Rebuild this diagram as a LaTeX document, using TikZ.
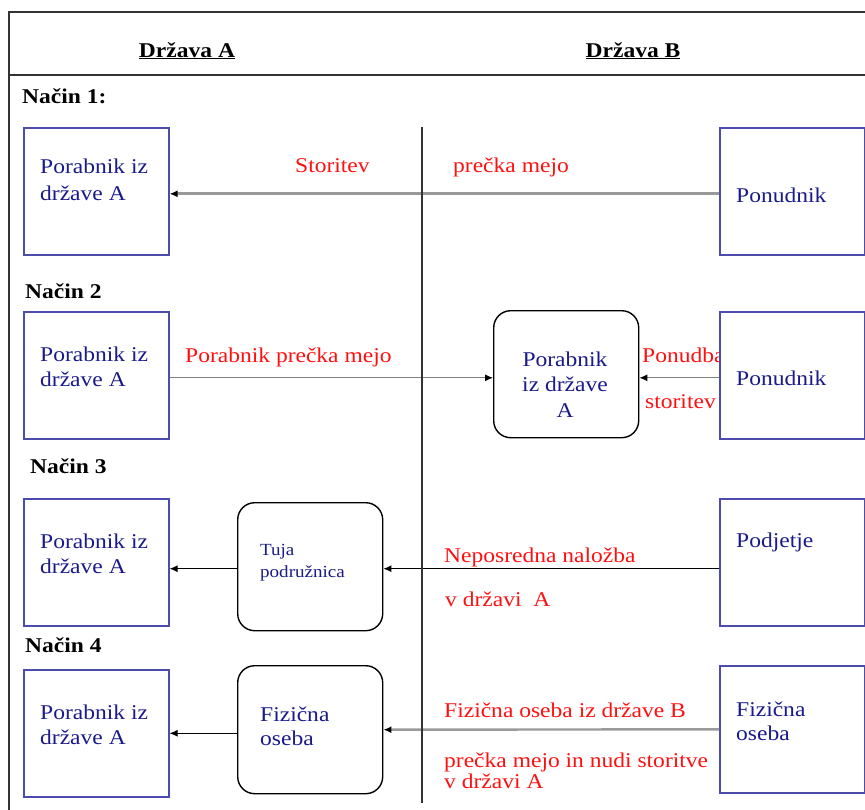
\documentclass[tikz,border=0pt]{standalone}
\usepackage{fontspec}
\setmainfont[FakeStretch=1.12]{Liberation Serif}
\usetikzlibrary{arrows.meta,calc}
\definecolor{navy}{HTML}{1A1A8A}
\definecolor{boxblue}{HTML}{4C4CAC}
\definecolor{lred}{HTML}{FF1010}
\definecolor{framec}{HTML}{333333}
\definecolor{greyline}{HTML}{999999}
\begin{document}
\begin{tikzpicture}[x=1pt,y=-1pt,
  bbox/.style={draw=boxblue, line width=1.6pt, fill=white, minimum width=145pt, minimum height=127pt, inner sep=0pt, anchor=north west},
  rbox/.style={draw=black, line width=1.4pt, rounded corners=17pt, fill=white, minimum width=145pt, minimum height=128pt, inner sep=0pt, anchor=north west},
  ntext/.style={text=navy, font=\fontsize{21}{25}\selectfont, anchor=base west, inner sep=0pt},
  stext/.style={text=navy, font=\fontsize{17}{20}\selectfont, anchor=base west, inner sep=0pt},
  rtext/.style={text=lred, font=\fontsize{21}{25}\selectfont, anchor=base west, inner sep=0pt},
  htext/.style={text=black, font=\bfseries\fontsize{21}{25}\selectfont, inner sep=0pt},
  conn/.style={-{Latex[length=8pt,width=7pt,color=black]}},
  thickgrey/.style={conn, draw=greyline, line width=2.8pt},
  thingrey/.style={conn, draw=gray, line width=1pt},
  thinblack/.style={conn, draw=black, line width=1pt}
]
\useasboundingbox (0,0) rectangle (865,809);
% frame
\draw[framec, line width=1.6pt] (870,12) -- (9,12) -- (9,812);
\draw[framec, line width=1.6pt] (9,75) -- (870,75);
% headers
\node[htext, anchor=base] (hA) at (187,57) {\underline{Država A}};
\node[htext, anchor=base] (hB) at (633,57) {\underline{Država B}};
\node[htext, anchor=base west] (n1) at (22,103) {Način 1:};
\node[htext, anchor=base west] (n2) at (25,298) {Način 2};
\node[htext, anchor=base west] (n3) at (30,473) {Način 3};
\node[htext, anchor=base west] (n4) at (25,652) {Način 4};

% red labels
\node[rtext] (l1a) at (295,172) {Storitev};
\node[rtext] (l1b) at (453,172) {prečka mejo};
\node[rtext] (l2a) at (185,362) {Porabnik prečka mejo};
\node[rtext] (l2b) at (642,362) {Ponudba};
\node[rtext] (l2c) at (645,408) {storitev};
\node[rtext] (l3a) at (444,562) {Neposredna naložba};
\node[rtext] (l3b) at (445,606) {v državi\ \ A};
\node[rtext] (l4a) at (444,717) {Fizična oseba iz države B};
\node[rtext] (l4b) at (444,767) {prečka mejo in nudi storitve};
\node[rtext] (l4c) at (444,788) {v državi A};

% boxes
\node[bbox] (L1) at (23,127) {};
\node[bbox] (R1) at (719,127) {};
\node[bbox] (L2) at (23,311) {};
\node[rbox, minimum height=127pt] (M2) at (493,310) {};
\node[bbox] (R2) at (719,311) {};
\node[bbox] (L3) at (23,498) {};
\node[rbox] (M3) at (237,502) {};
\node[bbox] (R3) at (719,498) {};
\node[bbox] (L4) at (23,669) {};
\node[rbox] (M4) at (237,665) {};
\node[bbox] (R4) at (719,665) {};

% box texts
\node[ntext] (t1a) at (40,173) {Porabnik iz};
\node[ntext] (t1b) at (40,200) {države A};
\node[ntext] (p1) at (736,202) {Ponudnik};
\node[ntext] (t2a) at (40,361) {Porabnik iz};
\node[ntext] (t2b) at (40,386) {države A};
\node[ntext, anchor=base] (m2a) at (565,366) {Porabnik};
\node[ntext, anchor=base] (m2b) at (565,391) {iz države};
\node[ntext, anchor=base] (m2c) at (565,417) {A};
\node[ntext] (p2) at (736,385) {Ponudnik};
\node[ntext] (t3a) at (40,548) {Porabnik iz};
\node[ntext] (t3b) at (40,573) {države A};
\node[stext] (m3a) at (260,555) {Tuja};
\node[stext] (m3b) at (260,577) {podružnica};
\node[ntext] (p3) at (736,547) {Podjetje};
\node[ntext] (t4a) at (40,719) {Porabnik iz};
\node[ntext] (t4b) at (40,744) {države A};
\node[ntext] (m4a) at (260,721) {Fizična};
\node[ntext] (m4b) at (260,745) {oseba};
\node[ntext] (p4a) at (736,716) {Fizična};
\node[ntext] (p4b) at (736,740) {oseba};

% connectors
\draw[thickgrey] ($(R1.west)+(0,2.5)$) -- ($(L1.east)+(0,2.5)$);
\draw[thingrey] ($(L2.east)+(0,2.5)$) -- ($(L2.east -| M2.west)+(0,2.5)$);
\draw[thingrey] ($(R2.west)+(0,2.5)$) -- ($(R2.west -| M2.east)+(0,2.5)$);
\draw[thinblack] ($(M3.west)+(0,2)$) -- ($(M3.west -| L3.east)+(0,2)$);
\draw[thinblack] ($(M3.east -| R3.west)+(0,2)$) -- ($(M3.east)+(0,2)$);
\draw[thinblack] (L4.east -| M4.west) -- (L4.east);
\draw[thickgrey, line width=2.4pt] (R4.west) -- (M4.east);

% divider
\coordinate (dtop) at (422,127);
\coordinate (dbot) at (422,803);
\draw[framec, line width=1.5pt] (dtop) -- (dbot);
\end{tikzpicture}
\end{document}
